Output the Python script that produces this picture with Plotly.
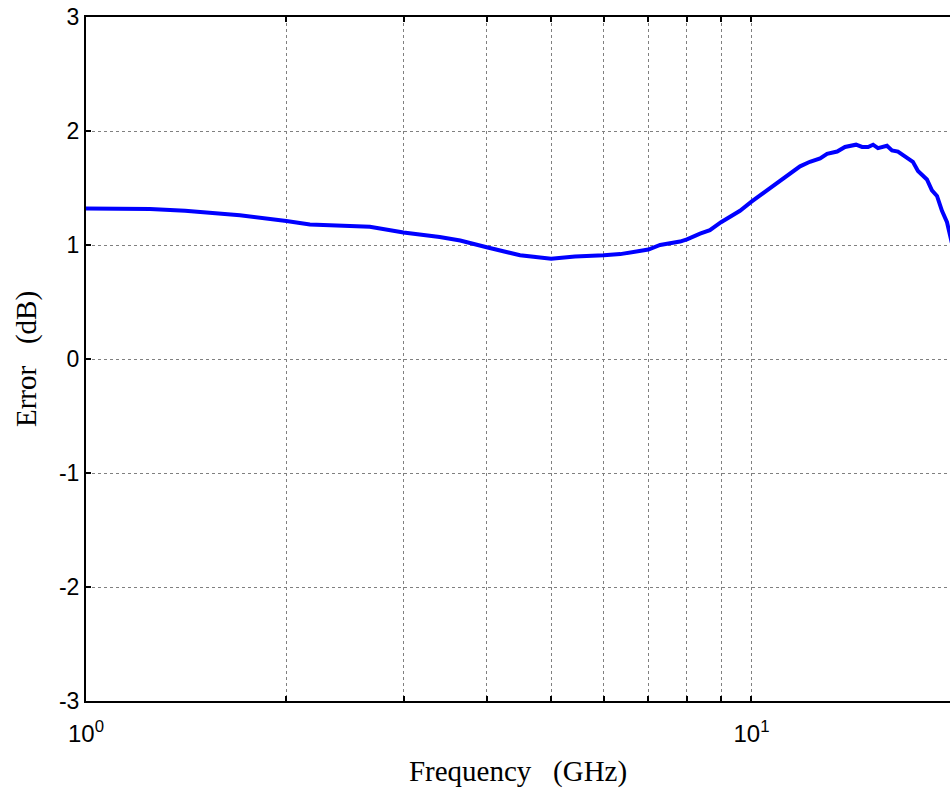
import plotly.graph_objects as go

freq_ghz = [1.0, 1.248, 1.409, 1.703, 2.0, 2.17, 2.67, 3.0, 3.40, 3.65, 4.0, 4.49, 5.0, 5.43, 6.0, 6.35,
            7.0, 7.29, 7.81, 8.0, 8.37, 8.66, 9.0, 9.61, 10.0, 10.66, 11.43, 11.83, 12.24, 12.68, 12.99,
            13.45, 13.82, 14.16, 14.36, 14.66, 14.97, 15.23, 15.49, 15.98, 16.26, 16.60, 17.13, 17.48,
            17.79, 18.35, 18.67, 19.00, 19.33, 19.67, 20.0]
error_db = [1.32, 1.315, 1.30, 1.26, 1.21, 1.18, 1.16, 1.11, 1.07, 1.04, 0.98, 0.91, 0.88, 0.90, 0.91, 0.92,
            0.96, 1.00, 1.03, 1.05, 1.10, 1.13, 1.20, 1.30, 1.38, 1.50, 1.62, 1.69, 1.73, 1.76, 1.80,
            1.82, 1.86, 1.87, 1.88, 1.86, 1.86, 1.88, 1.85, 1.87, 1.83, 1.82, 1.76, 1.73,
            1.65, 1.575, 1.48, 1.43, 1.30, 1.20, 1.02]

x_tickvals = [1, 10]
x_ticktext = ["10<sup>0</sup>", "10<sup>1</sup>"]
x_minor_vals = [2, 3, 4, 5, 6, 7, 8, 9, 20]
y_tickvals = [-3, -2, -1, 0, 1, 2, 3]
y_ticktext = ["-3", "-2", "-1", "0", "1", "2", "3"]

fig = go.Figure()
fig.add_trace(go.Scatter(x=freq_ghz, y=error_db, mode="lines",
                         line=dict(color="#0000FF", width=4), showlegend=False))

ytick_font = dict(family="Liberation Sans, Arial", size=23, color="black")
xtick_font = dict(family="Liberation Sans, Arial", size=24, color="black")
title_font = dict(family="Liberation Serif, Times New Roman", size=29, color="black")

fig.update_layout(
    width=950, height=791,
    margin=dict(l=86, r=0, t=17, b=90),
    plot_bgcolor="white", paper_bgcolor="white",
    xaxis=dict(type="log", range=[0, 1.2983], tickmode="array", tickvals=x_tickvals, ticktext=x_ticktext,
               showline=True, linecolor="black", linewidth=2, mirror="ticks",
               ticks="inside", ticklen=5, tickcolor="black", tickwidth=1.5,
               showgrid=True, gridcolor="#808080", gridwidth=1, griddash="dot",
               minor=dict(tickmode="array", tickvals=x_minor_vals, ticks="inside", ticklen=5,
                          tickcolor="black", tickwidth=1.5, showgrid=True,
                          gridcolor="#808080", gridwidth=1, griddash="dot"),
               tickfont=xtick_font, zeroline=False, automargin=False, ticklabelstandoff=10,
               ticklabeloverflow="allow",
               title=dict(text="Frequency\u00a0\u00a0\u00a0(GHz)", font=title_font, standoff=15)),
    yaxis=dict(range=[-3, 3], tickmode="array", tickvals=y_tickvals, ticktext=y_ticktext,
               showline=True, linecolor="black", linewidth=2,
               ticks="inside", ticklen=5, tickcolor="black", tickwidth=1.5,
               showgrid=True, gridcolor="#808080", gridwidth=1, griddash="dot",
               tickfont=ytick_font, zeroline=False, automargin=False,
               ticklabeloverflow="allow",
               title=dict(text="Error\u00a0\u00a0\u00a0(dB)", font=title_font, standoff=14)),
)

fig.write_html("out.html", config={"displayModeBar": False},
               post_script="document.body.style.margin='0';document.body.style.overflow='hidden';")
